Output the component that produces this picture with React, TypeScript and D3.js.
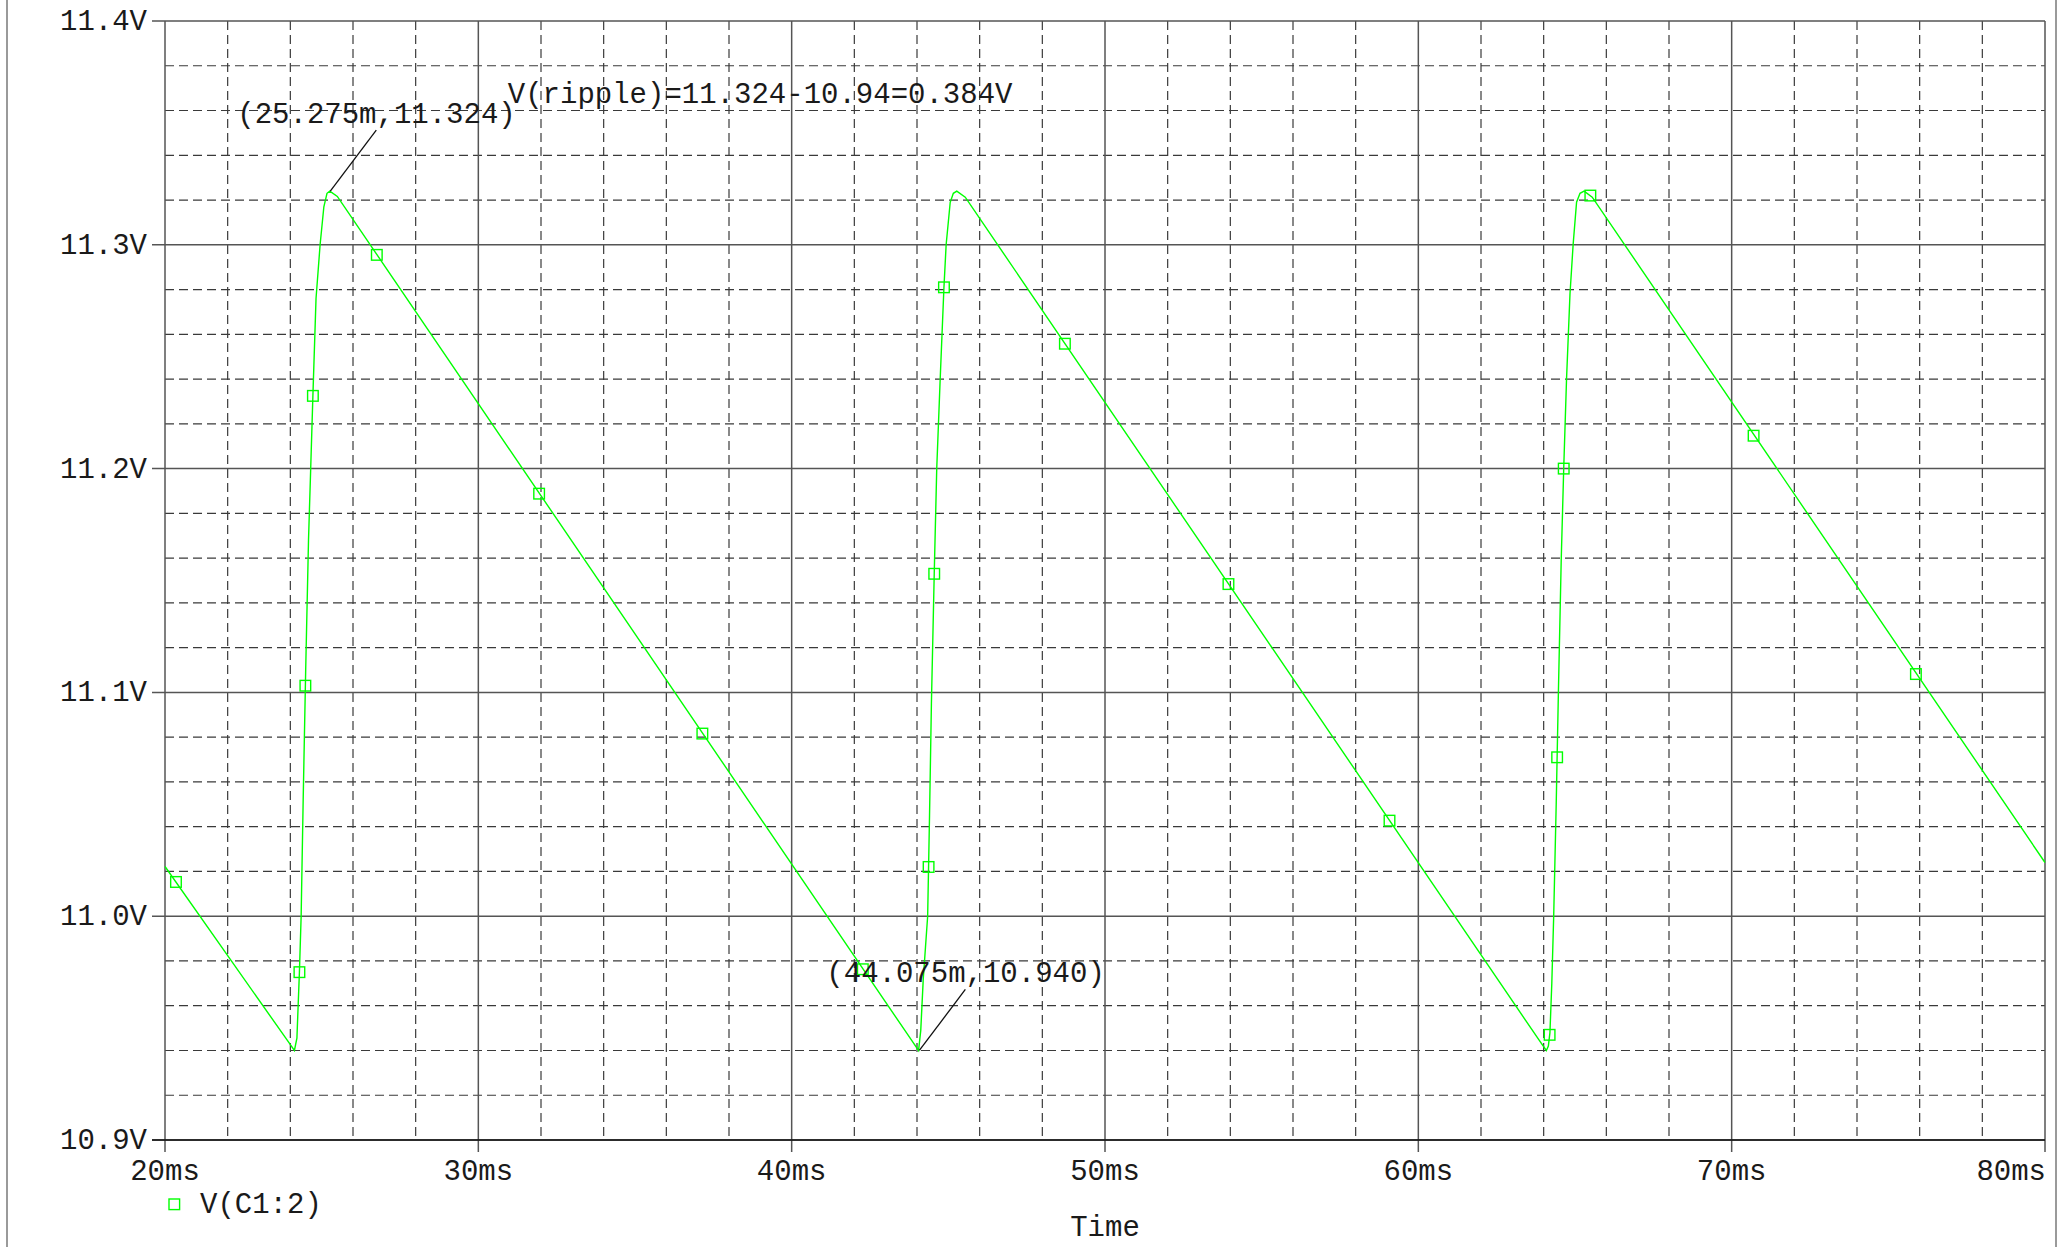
import * as d3 from 'd3'

// V(C1:2) transient
const timeMs = [
  20.0, 23.9, 24.13, 24.21, 24.29, 24.345, 24.41, 24.49, 24.58, 24.65, 24.72, 24.82, 24.95, 25.07, 25.17, 25.26, 25.5,
  43.82, 44.05, 44.12, 44.2, 44.27, 44.34, 44.4, 44.46, 44.55, 44.63, 44.74, 44.86, 44.93, 45.06, 45.16, 45.27, 45.54,
  63.85, 64.085, 64.15, 64.2, 64.26, 64.32, 64.4, 64.47, 64.56, 64.64, 64.73, 64.84, 64.94, 65.05, 65.16, 65.29, 65.55,
  80.0,
]
const voltV = [
  11.0222, 10.9446, 10.94, 10.9455, 10.975, 11.0, 11.052, 11.11, 11.168, 11.2, 11.2325, 11.276, 11.3, 11.317, 11.323, 11.324, 11.3216,
  10.9447, 10.94, 10.949, 10.972, 10.986, 11.0, 11.045, 11.095, 11.153, 11.2, 11.24, 11.281, 11.3, 11.319, 11.323, 11.324, 11.3213,
  10.9447, 10.94, 10.942, 10.948, 10.97, 11.0, 11.05, 11.1, 11.159, 11.2, 11.24, 11.278, 11.3, 11.319, 11.323, 11.324, 11.3213,
  11.024,
]

// probe markers (every Nth simulation point)
const markerTime = [20.35, 24.29, 24.48, 24.72, 26.76, 31.94, 37.15, 42.27, 44.37, 44.55, 44.86, 48.72, 53.94, 59.08, 64.19, 64.43, 64.64, 65.49, 70.7, 75.88]
const markerVolt = [11.0153, 10.975, 11.103, 11.2325, 11.2955, 11.1888, 11.0816, 10.9763, 11.022, 11.153, 11.281, 11.2558, 11.1484, 11.0427, 10.947, 11.071, 11.2, 11.322, 11.2147, 11.1082]

const xTicks = [20, 30, 40, 50, 60, 70, 80]
const xTickLabels = ['20ms', '30ms', '40ms', '50ms', '60ms', '70ms', '80ms']
const yTicks = [10.9, 11.0, 11.1, 11.2, 11.3, 11.4]
const yTickLabels = ['10.9V', '11.0V', '11.1V', '11.2V', '11.3V', '11.4V']

// cursor labels
const cursorTime = [25.275, 44.075]
const cursorVolt = [11.324, 10.94]
const cursorText = ['(25.275m,11.324)', '(44.075m,10.940)']

const rippleText = 'V(ripple)=11.324-10.94=0.384V'
const seriesName = 'V(C1:2)'

const FONT = "'Liberation Mono', 'DejaVu Sans Mono', monospace"
const GREEN = '#00ff00'

export default function App() {
  const width = 2065
  const height = 1247
  const margin = { top: 21, right: 20, bottom: 107, left: 165 }
  const x0 = margin.left
  const x1 = width - margin.right
  const y0 = height - margin.bottom
  const y1 = margin.top

  const x = d3.scaleLinear().domain([20, 80]).range([x0, x1])
  const y = d3.scaleLinear().domain([10.9, 11.4]).range([y0, y1])

  const minorX = d3.range(22, 80, 2).filter(v => v % 10 !== 0)
  const minorY = d3.range(1, 25).filter(k => k % 5 !== 0).map(k => 10.9 + k * 0.02)

  const line = d3.line<number>()
    .x((_, i) => x(timeMs[i]))
    .y(d => y(d))
  const trace = line(voltV) || ''

  const ms = 10.6

  return (
    <svg
      width={width}
      height={height}
      style={{ position: 'fixed', left: 0, top: 0, background: '#fff' }}
      fontFamily={FONT}
      fontSize={29}
    >
      <rect width={width} height={height} fill="#fff" />
      {/* window frame */}
      <line x1={7} x2={7} y1={0} y2={height} stroke="#9a9a9a" strokeWidth={2} />
      <line x1={2056} x2={2056} y1={0} y2={height} stroke="#9a9a9a" strokeWidth={2} />

      {/* minor grid */}
      <g stroke="#3a3a3a" strokeWidth={1.2} strokeDasharray="9 5">
        {minorX.map(v => (
          <line key={'mx' + v} x1={x(v)} x2={x(v)} y1={y1} y2={y0} />
        ))}
        {minorY.map(v => (
          <line key={'my' + v} x1={x0} x2={x1} y1={y(v)} y2={y(v)} />
        ))}
      </g>

      {/* major grid + ticks */}
      <g stroke="#555" strokeWidth={1.5}>
        {xTicks.map(v => (
          <line key={'Mx' + v} x1={x(v)} x2={x(v)} y1={y1} y2={y0 + 12} />
        ))}
        {yTicks.map(v => (
          <line key={'My' + v} x1={x0 - 13} x2={x1} y1={y(v)} y2={y(v)} />
        ))}
      </g>
      <line x1={x0 - 13} x2={x1} y1={y0} y2={y0} stroke="#111" strokeWidth={1.6} />

      {/* axis labels */}
      <g fill="#1a1a1a">
        {yTicks.map((v, i) => (
          <text key={'yl' + v} x={x0 - 18} y={y(v) + 9} textAnchor="end">
            {yTickLabels[i]}
          </text>
        ))}
        {xTicks.map((v, i) => (
          <text
            key={'xl' + v}
            x={i === xTicks.length - 1 ? x1 + 1 : x(v)}
            y={y0 + 40}
            textAnchor={i === xTicks.length - 1 ? 'end' : 'middle'}
          >
            {xTickLabels[i]}
          </text>
        ))}
        <text x={(x0 + x1) / 2} y={height - 11} textAnchor="middle">Time</text>
      </g>

      {/* trace */}
      <path d={trace} fill="none" stroke={GREEN} strokeWidth={1.4} />
      <g fill="none" stroke={GREEN} strokeWidth={1.4}>
        {markerTime.map((t, i) => (
          <rect key={'m' + i} x={x(t) - ms / 2} y={y(markerVolt[i]) - ms / 2} width={ms} height={ms} />
        ))}
      </g>

      {/* cursor annotations */}
      <g fill="#1a1a1a">
        {cursorTime.map((t, i) => (
          <g key={'c' + i}>
            <line x1={x(t)} y1={y(cursorVolt[i])} x2={x(t) + 46} y2={y(cursorVolt[i]) - 61} stroke="#111" strokeWidth={1.3} />
            <text x={x(t) - 93} y={y(cursorVolt[i]) - 68}>{cursorText[i]}</text>
          </g>
        ))}
        <text x={x(30.94)} y={y(11.3635)}>{rippleText}</text>
      </g>

      {/* legend */}
      <rect x={x0 + 4} y={1199} width={ms} height={ms} fill="none" stroke={GREEN} strokeWidth={1.4} />
      <text x={x0 + 35} y={1213} fill="#1a1a1a">{seriesName}</text>
    </svg>
  )
}
